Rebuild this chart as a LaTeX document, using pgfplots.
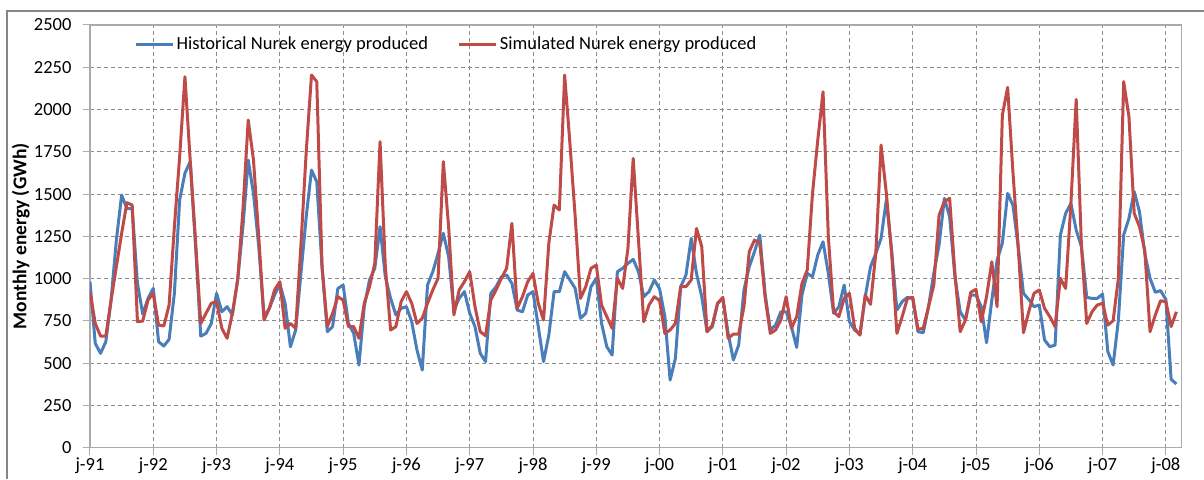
\documentclass[border=0pt]{standalone}
\usepackage{fontspec}
\setmainfont{Carlito}
\usepackage{pgfplots}
\usepackage{pgfplotstable}
\pgfplotsset{compat=1.18}
\definecolor{histblue}{RGB}{74,126,187}
\definecolor{simred}{RGB}{190,75,72}
\definecolor{gridc}{RGB}{140,140,140}
\definecolor{framec}{RGB}{134,134,134}
\definecolor{axisc}{RGB}{170,170,170}

\pgfplotstableread{
i hist sim
0 981 922
1 617 735
2 558 660
3 627 660
4 873 873
5 1228 1070
6 1494 1268
7 1414 1449
8 1414 1435
9 972 745
10 790 749
11 883 873
12 942 913
13 627 725
14 601 720
15 641 844
16 913 1307
17 1465 1721
18 1623 2194
19 1692 1700
20 1200 1230
21 660 735
22 676 795
23 735 854
24 913 864
25 804 706
26 834 647
27 785 795
28 992 992
29 1307 1406
30 1701 1938
31 1504 1701
32 1189 1248
33 775 755
34 824 824
35 903 933
36 968 982
37 854 706
38 597 735
39 696 706
40 1031 1200
41 1366 1750
42 1642 2204
43 1573 2165
44 1070 1070
45 686 716
46 716 795
47 942 893
48 962 873
49 735 716
50 676 716
51 489 647
52 834 854
53 992 952
54 1061 1090
55 1307 1810
56 1011 1070
57 883 696
58 785 716
59 824 864
60 834 923
61 745 854
62 578 735
63 459 765
64 962 854
65 1041 933
66 1149 1002
67 1268 1692
68 1130 1307
69 814 785
70 883 933
71 923 982
72 795 1041
73 716 834
74 558 686
75 509 662
76 913 873
77 952 933
78 1011 1002
79 1021 1061
80 972 1327
81 814 824
82 804 893
83 903 982
84 923 1031
85 716 854
86 509 755
87 666 1209
88 923 1435
89 923 1406
90 1041 2204
91 992 1800
92 942 1366
93 765 883
94 795 952
95 952 1061
96 1002 1080
97 735 844
98 597 775
99 548 706
100 1041 1002
101 1061 942
102 1090 1179
103 1114 1711
104 1041 1228
105 893 745
106 923 844
107 992 893
108 940 870
109 775 676
110 400 696
111 528 735
112 952 952
113 1021 952
114 1238 992
115 1031 1297
116 893 1189
117 686 686
118 716 725
119 854 854
120 883 889
121 676 647
122 519 672
123 607 672
124 933 834
125 1070 1159
126 1159 1228
127 1258 1209
128 913 893
129 696 676
130 725 696
131 804 755
132 804 893
133 716 706
134 593 775
135 903 972
136 1031 1051
137 1011 1504
138 1140 1820
139 1218 2105
140 1031 1248
141 795 804
142 834 775
143 962 883
144 745 913
145 696 706
146 672 666
147 893 903
148 1070 848
149 1149 1149
150 1238 1790
151 1465 1504
152 1169 1149
153 814 676
154 864 775
155 889 883
156 883 889
157 686 700
158 680 706
159 834 834
160 1031 962
161 1199 1376
162 1475 1455
163 1366 1475
164 1011 1031
165 804 686
166 755 755
167 903 919
168 903 937
169 834 745
170 621 893
171 873 1100
172 1110 834
173 1209 1968
174 1504 2131
175 1435 1632
176 1189 1189
177 913 680
178 877 804
179 834 913
180 844 933
181 637 824
182 597 775
183 607 716
184 1258 1002
185 1386 942
186 1445 1445
187 1287 2060
188 1189 1189
189 889 735
190 883 804
191 883 844
192 909 854
193 568 725
194 489 751
195 755 1002
196 1258 2165
197 1356 1958
198 1514 1386
199 1396 1307
200 1149 1169
201 1002 686
202 919 785
203 929 869
204 877 864
205 404 716
206 377 804
}\energy

\begin{document}
\begin{tikzpicture}
\useasboundingbox (-90pt,-31.3pt) rectangle (1114pt,447.7pt);
\draw[framec, line width=1.5pt] (-83pt,-31.3pt) -- (-83pt,436.7pt) -- (1114pt,436.7pt);
\begin{axis}[
  at={(0pt,0pt)}, anchor=south west,
  scale only axis, width=1091.7pt, height=422.7pt,
  xmin=0, xmax=207, ymin=0, ymax=2500,
  ytick={0,250,...,2500},
  xtick={0,12,...,204},
  xticklabels={j-91,j-92,j-93,j-94,j-95,j-96,j-97,j-98,j-99,j-00,j-01,j-02,j-03,j-04,j-05,j-06,j-07,j-08},
  grid=major,
  major grid style={gridc, dash pattern=on 4pt off 3pt, line width=0.9pt},
  axis line style={axisc, line width=1.2pt},
  tick pos=left, tick align=outside, major tick length=7pt,
  tick style={axisc, line width=1pt},
  font=\fontsize{18.5}{22}\selectfont,
  yticklabel style={xshift=-8pt},
  /pgf/number format/assume math mode=true,
  /pgf/number format/1000 sep={},
  ylabel={\textbf{Monthly energy (GWh)}},
  ylabel style={at={(axis description cs:-0.0635,0.5)}, anchor=center, rotate=0, font=\fontsize{19.5}{23}\selectfont},
  legend columns=2,
  legend style={at={(axis description cs:0.038,0.955)}, anchor=west, draw=none, fill=none,
    font=\fontsize{18.5}{22}\selectfont, /tikz/every even column/.append style={column sep=28pt}},
  legend image code/.code={\draw[#1] (0pt,0pt) -- (37pt,0pt);},
]
\addplot[color=histblue, line width=3pt, line join=round] table[x=i, y=hist] {\energy};
\addlegendentry{Historical Nurek energy produced}
\addplot[color=simred, line width=3pt, line join=round] table[x=i, y=sim] {\energy};
\addlegendentry{Simulated Nurek energy produced}
\end{axis}
\end{tikzpicture}
\end{document}
